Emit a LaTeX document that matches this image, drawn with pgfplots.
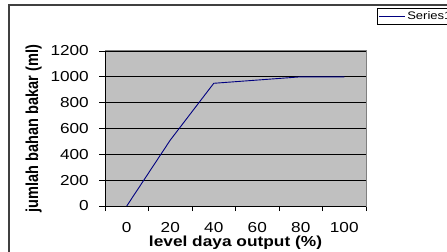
\documentclass[border=0pt]{standalone}
\usepackage{fontspec}
\setmainfont{Liberation Sans}[FakeStretch=1.19]
\newfontfamily\plainfont{Liberation Sans}
\usepackage{graphicx}
\usepackage{pgfplots}
\pgfplotsset{compat=1.18}
\definecolor{plotgray}{HTML}{C0C0C0}
\definecolor{bordergray}{HTML}{808080}
\definecolor{navyline}{HTML}{000080}
\definecolor{framegray}{HTML}{404040}
\begin{document}
\begin{tikzpicture}[x=1bp,y=1bp]
\useasboundingbox (0,0) rectangle (447,251);
\clip (0,0) rectangle (447,251);
\draw[line width=1.5bp, framegray] (9,-10) -- (9,246) -- (460,246);
\begin{axis}[
  at={(105bp,45bp)}, anchor=south west,
  scale only axis, width=261bp, height=155bp,
  xmin=-0.5, xmax=5.5, ymin=0, ymax=1200,
  axis background/.style={fill=plotgray},
  axis line style={bordergray, line width=1bp},
  xtick={0,1,2,3,4,5},
  xticklabels={0,20,40,60,80,100},
  major x tick style={draw=none},
  minor xtick={-0.5,0.5,1.5,2.5,3.5,4.5,5.5},
  minor x tick style={black, line width=0.8bp},
  minor tick length=5bp,
  ytick={0,200,...,1200},
  ytick pos=left, xtick pos=bottom,
  tick align=outside,
  major tick length=6bp,
  y tick style={black, line width=0.8bp},
  ymajorgrids, grid style={black, line width=0.8bp},
  /pgf/number format/assume math mode=true,
  /pgf/number format/1000 sep={},
  ticklabel style={font=\fontsize{14.5}{16}\selectfont},
  xticklabel style={anchor=north, inner sep=0pt, yshift=-10bp},
  yticklabel style={anchor=east, inner sep=0pt, xshift=-10bp},
  xlabel={\bfseries level daya output (\%)},
  xlabel style={at={(axis description cs:0.5,-0.2613)}, anchor=base, inner sep=0pt, font=\fontsize{14.6}{16}\selectfont},
  ylabel={\scalebox{1}[1.19]{\plainfont\bfseries jumlah bahan bakar (ml)}},
  ylabel style={at={(axis description cs:-0.2567,0.5)}, anchor=base, inner sep=0pt, font=\fontsize{14.6}{16}\selectfont},
  legend style={at={(rel axis cs:1.042,1.277)}, anchor=north west, draw=black, line width=0.8bp, fill=white,
    font=\fontsize{11}{12}\selectfont, inner xsep=1bp, inner ysep=1.5bp, row sep=0pt},
  legend cell align=left,
  legend image code/.code={\path (0bp,0bp) -- (26bp,0bp);\draw[navyline, line width=0.8bp] (3bp,0bp) -- (26bp,0bp);},
  clip=false,
]
\addplot[navyline, line width=0.9bp] coordinates {(0,0) (1,510) (2,950) (3,975) (4,1000) (5,1000)};
\addlegendentry{Series1}
\draw[black, line width=1bp] (axis cs:-0.5,0) -- (axis cs:5.5,0);
\draw[black, line width=1bp] (axis cs:-0.5,0) -- (axis cs:-0.5,1200);
\end{axis}
\end{tikzpicture}
\end{document}
